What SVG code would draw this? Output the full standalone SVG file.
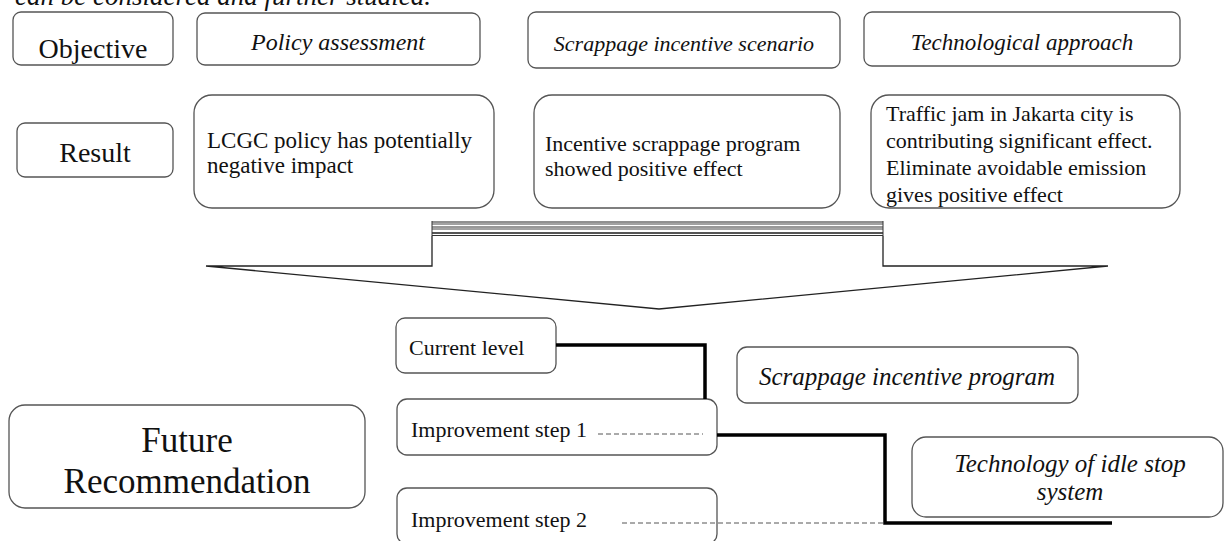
<svg xmlns="http://www.w3.org/2000/svg" width="1226" height="541" viewBox="0 0 1226 541">
<style>
.box{fill:#fff;stroke:#555;stroke-width:1.3}
.t{font-family:"Liberation Serif","Times New Roman",serif;fill:#111}
.i{font-style:italic}
.thick{fill:none;stroke:#000;stroke-width:3.5}
.dash{fill:none;stroke:#555;stroke-width:1;stroke-dasharray:5 3}
.arrow{fill:#fff;stroke:#222;stroke-width:1.3}
</style>
<rect width="1226" height="541" fill="#fff"/>
<text class="t i" x="15" y="5" font-size="27">can be considered and further studied.</text>

<g id="objective"><rect class="box" x="13" y="12" width="160" height="53" rx="8"/><text class="t" x="93" y="58" font-size="28" text-anchor="middle">Objective</text></g>
<g id="policy-assessment"><rect class="box" x="197" y="13" width="283" height="52" rx="8"/><text class="t i" x="338" y="50" font-size="24" text-anchor="middle">Policy assessment</text></g>
<g id="scrappage-scenario"><rect class="box" x="528" y="12" width="312" height="56" rx="8"/><text class="t i" x="684" y="51" font-size="22" text-anchor="middle">Scrappage incentive scenario</text></g>
<g id="technological-approach"><rect class="box" x="864" y="12" width="316" height="54" rx="8"/><text class="t i" x="1022" y="50" font-size="23" text-anchor="middle">Technological approach</text></g>

<g id="result"><rect class="box" x="17" y="123" width="156" height="54" rx="8"/><text class="t" x="95" y="162" font-size="28" text-anchor="middle">Result</text></g>
<g id="lcgc"><rect class="box" x="194" y="95" width="300" height="113" rx="18"/><text class="t" font-size="23"><tspan x="207" y="148">LCGC policy has potentially</tspan><tspan x="207" y="173">negative impact</tspan></text></g>
<g id="incentive-result"><rect class="box" x="534" y="95" width="306" height="113" rx="18"/><text class="t" font-size="22"><tspan x="545" y="151">Incentive scrappage program</tspan><tspan x="545" y="176">showed positive effect</tspan></text></g>
<g id="traffic"><rect class="box" x="871" y="95" width="309" height="113" rx="18"/><text class="t" font-size="22"><tspan x="886" y="121">Traffic jam in Jakarta city is</tspan><tspan x="886" y="148">contributing significant effect.</tspan><tspan x="886" y="175">Eliminate avoidable emission</tspan><tspan x="886" y="202">gives positive effect</tspan></text></g>

<g id="merge-arrow">
<path class="arrow" d="M432 236 L432 266 L206 266 L659 309 L1108 266 L883 266 L883 236"/>
<rect x="432" y="221" width="451" height="15" fill="#fff" stroke="none"/>
<line x1="432" y1="222" x2="883" y2="222" stroke="#222" stroke-width="1.2"/>
<line x1="432" y1="224" x2="883" y2="224" stroke="#444" stroke-width="1"/>
<line x1="432" y1="227" x2="883" y2="227" stroke="#333" stroke-width="1.2"/>
<line x1="432" y1="229" x2="883" y2="229" stroke="#444" stroke-width="1"/>
<line x1="432" y1="233" x2="883" y2="233" stroke="#555" stroke-width="2"/>
<line x1="432" y1="235.5" x2="883" y2="235.5" stroke="#333" stroke-width="1.2"/>
<line x1="432" y1="221" x2="432" y2="236" stroke="#333" stroke-width="1"/>
<line x1="883" y1="221" x2="883" y2="236" stroke="#333" stroke-width="1"/>
</g>

<g id="future-recommendation"><rect class="box" x="9" y="405" width="356" height="103" rx="16"/><text class="t" font-size="35" text-anchor="middle"><tspan x="187" y="452">Future</tspan><tspan x="187" y="493">Recommendation</tspan></text></g>
<g id="current-level"><rect class="box" x="396" y="318" width="160" height="55" rx="9"/><text class="t" x="409" y="355" font-size="22">Current level</text></g>
<g id="step1"><rect class="box" x="397" y="399" width="320" height="56" rx="10"/><text class="t" x="411" y="437" font-size="22">Improvement step 1</text></g>
<g id="step2"><rect class="box" x="397" y="488" width="320" height="56" rx="10"/><text class="t" x="411" y="527" font-size="22">Improvement step 2</text></g>
<g id="scrappage-program"><rect class="box" x="737" y="347" width="341" height="56" rx="10"/><text class="t i" x="907" y="385" font-size="25" text-anchor="middle">Scrappage incentive program</text></g>
<g id="idle-stop"><rect class="box" x="912" y="437" width="311" height="80" rx="14"/><text class="t i" font-size="25" text-anchor="middle"><tspan x="1070" y="472">Technology of idle stop</tspan><tspan x="1070" y="500">system</tspan></text></g>

<g id="connectors">
<polyline class="thick" points="556,345 705,345 705,399"/>
<polyline class="thick" points="717,435 885,435 885,523 1112,523"/>
<line class="dash" x1="598" y1="434" x2="703" y2="434"/>
<line class="dash" x1="622" y1="523" x2="885" y2="523"/>
</g>
</svg>
